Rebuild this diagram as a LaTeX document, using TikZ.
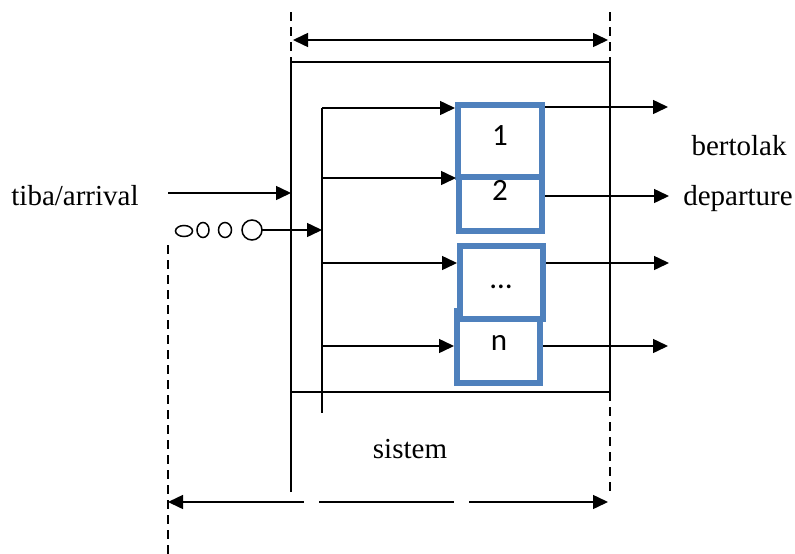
\documentclass[tikz,border=0pt]{standalone}
\usepackage{fontspec}
\setmainfont{Liberation Serif}
\newfontfamily\boxfont{Carlito}
\usetikzlibrary{arrows.meta,shapes.geometric}
\definecolor{boxblue}{HTML}{4F81BD}
\tikzset{
  ln/.style={line width=1.5pt, line cap=butt},
  arr/.style={ln, -{Triangle[length=15pt,width=14pt]}},
  darr/.style={ln, {Triangle[length=15pt,width=14pt]}-{Triangle[length=15pt,width=14pt]}},
  dsh/.style={line width=2pt, dash pattern=on 9pt off 6pt},
  server/.style={draw=boxblue, line width=6pt, rectangle, fill=white, inner sep=0pt},
  blabel/.style={font=\boxfont\fontsize{31}{33}\selectfont, anchor=base, inner sep=0pt},
  tlabel/.style={font=\fontsize{29}{32}\selectfont, anchor=base, inner sep=0pt},
  qc/.style={draw, ellipse, line width=1.5pt, inner sep=0pt, outer sep=0pt},
}
\begin{document}
\begin{tikzpicture}[x=1pt,y=-1pt]
\useasboundingbox (0,0) rectangle (795,554);
% frame
\draw[dsh] (291,12) -- (291,62);
\draw[dsh] (610,12) -- (610,62);
\draw[ln] (291,492) -- (291,62) -- (610,62) -- (610,392);
\draw[ln] (291,392) -- (610,392);
\draw[dsh] (610,392) -- (610,492);
\draw[dsh] (168,245) -- (168,554);
% top dimension arrow
\coordinate (tL) at (293,40);
\coordinate (tR) at (608,40);
\draw[darr] (tL) -- (tR);
% bottom dimension arrow (broken)
\coordinate (bL) at (168,502);
\coordinate (bG1) at (304,502);
\coordinate (bG2) at (319,502);
\coordinate (bG3) at (454,502);
\coordinate (bG4) at (469,502);
\coordinate (bR) at (608,502);
\draw[ln, {Triangle[length=15pt,width=14pt]}-] (bL) -- (bG1);
\draw[ln] (bG2) -- (bG3);
\draw[arr] (bG4) -- (bR);
% bus line
\coordinate (busTop) at (322,108);
\coordinate (bus2) at (322,178);
\coordinate (busQ) at (322,230);
\coordinate (bus3) at (322,263);
\coordinate (busN) at (322,346);
\coordinate (busBot) at (322,413);
\draw[ln] (busTop) -- (busBot);
% servers
\node[server, minimum width=83pt, minimum height=55pt] (b2) at (500.5,203.5) {};
\node[server, minimum width=84pt, minimum height=72pt] (b1) at (500,141) {};
\node[server, minimum width=83pt, minimum height=72pt] (bn) at (498.5,347) {};
\node[server, minimum width=83pt, minimum height=73pt] (b3) at (501.5,282.5) {};
\node[blabel] (l1) at (500,145) {1};
\node[blabel] (l2) at (500,200) {2};
\node[blabel] (l3) at (501,288) {…};
\node[blabel] (ln) at (499,350) {n};
% incoming arrows
\draw[arr] (busTop) -- (b1.west |- busTop);
\draw[arr] (bus2) -- (b2.west |- bus2);
\draw[arr] (bus3) -- (b3.west |- bus3);
\draw[arr] (busN) -- (bn.west |- busN);
% outgoing arrows
\coordinate (o1) at (668,107);
\coordinate (o2) at (669,196);
\coordinate (o3) at (669,263);
\coordinate (o4) at (668,346);
\draw[arr] (b1.east |- o1) -- (o1);
\draw[arr] (b2.east |- o2) -- (o2);
\draw[arr] (b3.east |- o3) -- (o3);
\draw[arr] (bn.east |- o4) -- (o4);
% arrival
\coordinate (aS) at (168,193);
\coordinate (aE) at (291,193);
\draw[arr] (aS) -- (aE);
% queue
\node[qc, minimum width=17pt, minimum height=11pt] (q1) at (184,231) {};
\node[qc, minimum width=12pt, minimum height=15pt] (q2) at (203,230) {};
\node[qc, minimum width=13pt, minimum height=15pt] (q3) at (225,230) {};
\node[qc, minimum width=20pt, minimum height=20pt] (q4) at (252,230) {};
\draw[arr] (q4.east) -- (busQ);
% texts
\node[tlabel] (tiba) at (75,205) {tiba/arrival};
\node[tlabel] (bert) at (739,155) {bertolak};
\node[tlabel] (dep) at (738,205) {departure};
\node[tlabel] (sis) at (410,458) {sistem};
\end{tikzpicture}
\end{document}
